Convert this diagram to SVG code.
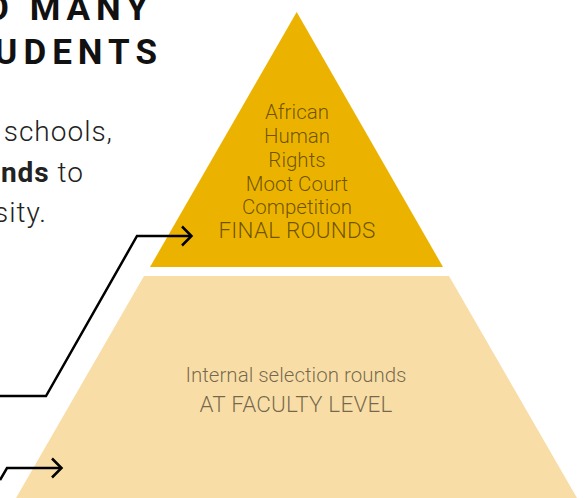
<svg xmlns="http://www.w3.org/2000/svg" width="584" height="498" viewBox="0 0 584 498">
<style>
.head{font-family:Roboto,"Liberation Sans",sans-serif;font-weight:700;font-size:35px;letter-spacing:6px;fill:#111}
.body{font-family:Roboto,"Liberation Sans",sans-serif;font-weight:300;font-size:28px;letter-spacing:1px;fill:#222}
.lbl{font-family:Roboto,"Liberation Sans",sans-serif;font-weight:300;font-size:20.5px;fill:#000;fill-opacity:0.55;text-anchor:middle}
.caps{font-size:22.5px;letter-spacing:0.2px}
.conn{fill:none;stroke:#000;stroke-width:2.5;stroke-linejoin:miter}
</style>
<rect width="584" height="498" fill="#fff"/>
<g id="heading">
<text class="head" x="154" y="20" text-anchor="end">O MANY</text>
<text class="head" x="163" y="64" text-anchor="end">UDENTS</text>
</g>
<g id="intro">
<text class="body" x="113" y="141" text-anchor="end">schools,</text>
<text class="body" x="84" y="182" text-anchor="end"><tspan font-weight="700">nds</tspan> to</text>
<text class="body" x="47" y="222" text-anchor="end">sity.</text>
</g>
<g id="level-final">
<polygon points="296.7,12 443,267 150,267" fill="#EBB300"/>
<text class="lbl" x="297" y="119">African</text>
<text class="lbl" x="297" y="143">Human</text>
<text class="lbl" x="297" y="166.5">Rights</text>
<text class="lbl" x="297" y="190.5">Moot Court</text>
<text class="lbl" x="297" y="214">Competition</text>
<text class="lbl caps" x="297" y="237.5">FINAL ROUNDS</text>
</g>
<g id="level-faculty">
<polygon points="144,276 449,276 577,498 16,498" fill="#F8DDA6"/>
<text class="lbl" x="296" y="382">Internal selection rounds</text>
<text class="lbl caps" x="296" y="411.5">AT FACULTY LEVEL</text>
</g>
<g id="connectors">
<polyline class="conn" points="0,396 46,396 137,236 191,236"/>
<polyline class="conn" points="182,226.5 191.5,236 182,245.5"/>
<polyline class="conn" points="0,480 7,468 61,468"/>
<polyline class="conn" points="52,458.5 61.5,468 52,477.5"/>
</g>
</svg>
